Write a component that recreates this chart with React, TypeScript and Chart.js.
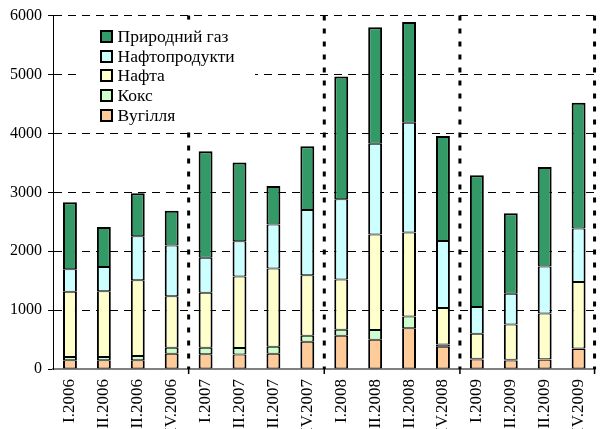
import React, { useEffect, useRef } from "react";
import { Chart, registerables } from "chart.js";

Chart.register(...registerables);

const categories = [
  "I.2006", "II.2006", "III.2006", "IV.2006",
  "I.2007", "II.2007", "III.2007", "IV.2007",
  "I.2008", "II.2008", "III.2008", "IV.2008",
  "I.2009", "II.2009", "III.2009", "IV.2009",
];

// Вугілля
const coal = [150, 150, 150, 260, 250, 245, 260, 463, 565, 497, 690, 378, 160, 145, 155, 340];
// Кокс
const coke = [55, 55, 70, 100, 110, 110, 118, 100, 100, 164, 200, 40, 15, 10, 10, 10];
// Нафта
const crude = [1105, 1115, 1285, 875, 935, 1215, 1328, 1030, 855, 1621, 1427, 616, 424, 602, 779, 1125];
// Нафтопродукти
const products = [385, 410, 750, 860, 595, 600, 746, 1107, 1362, 1543, 1864, 1141, 452, 520, 796, 910];
// Природний газ
const gas = [1135, 680, 730, 590, 1805, 1335, 655, 1080, 2084, 1977, 1712, 1780, 2237, 1367, 1689, 2135];

const seriesNames = ["Вугілля", "Кокс", "Нафта", "Нафтопродукти", "Природний газ"];
const seriesColors = ["#FFCC99", "#CCFFCC", "#FFFFCC", "#CCFFFF", "#339966"];
const seriesData = [coal, coke, crude, products, gas];

const yTicks = [0, 1000, 2000, 3000, 4000, 5000, 6000];
// Category indices after which a year separator is drawn
const yearBreaks = [3, 7, 11];

const FONT = "'Liberation Serif', 'Times New Roman', serif";

const overlayPlugin = {
  id: "overlay",
  beforeDatasetsDraw(chart: any) {
    const { ctx, chartArea, scales } = chart;
    const x = scales.x;
    const positions = yearBreaks.map(
      (i) => (x.getPixelForValue(i) + x.getPixelForValue(i + 1)) / 2
    );
    positions.push(chartArea.right - 1);
    ctx.save();
    positions.forEach((px: number) => {
      ctx.beginPath();
      ctx.setLineDash([5, 8]);
      ctx.lineWidth = 3;
      ctx.strokeStyle = "#000";
      ctx.moveTo(px, chartArea.top);
      ctx.lineTo(px, chartArea.bottom);
      ctx.stroke();
      ctx.setLineDash([]);
      ctx.lineWidth = 1.5;
      ctx.beginPath();
      ctx.moveTo(px, chartArea.bottom);
      ctx.lineTo(px, chartArea.bottom + 5);
      ctx.stroke();
    });
    ctx.restore();
  },
  afterDraw(chart: any) {
    const { ctx, chartArea } = chart;
    const left = chartArea.left + 24;
    const top = chartArea.top + 4;
    ctx.save();
    ctx.fillStyle = "#fff";
    ctx.fillRect(left, top, 178, 112);
    const order = [4, 3, 2, 1, 0];
    ctx.font = `17.5px ${FONT}`;
    ctx.textBaseline = "middle";
    order.forEach((si, row) => {
      const cy = chartArea.top + 20.5 + row * 19.9;
      const bx = chartArea.left + 47;
      const by = Math.round(cy - 6.5);
      ctx.fillStyle = "#000";
      ctx.fillRect(bx, by, 13, 13);
      ctx.fillStyle = seriesColors[si];
      ctx.fillRect(bx + 2, by + 2, 9, 9);
      ctx.fillStyle = "#000";
      ctx.fillText(seriesNames[si], bx + 17.5, cy + 1);
    });
    ctx.restore();
  },
};

export default function App() {
  const ref = useRef<HTMLCanvasElement | null>(null);

  useEffect(() => {
    if (!ref.current) return;
    Chart.defaults.font.family = FONT;
    Chart.defaults.font.size = 16;
    Chart.defaults.color = "#000";

    const chart = new Chart(ref.current, {
      type: "bar",
      data: {
        labels: categories,
        datasets: seriesData.map((d, i) => ({
          label: seriesNames[i],
          data: d,
          backgroundColor: seriesColors[i],
          borderColor: "#000",
          borderWidth: { top: i === 4 ? 2 : 1, bottom: 1, left: 2, right: 2 },
          borderSkipped: false,
          barPercentage: 0.41,
          categoryPercentage: 1,
        })),
      },
      options: {
        responsive: false,
        animation: false,
        layout: { padding: { top: 15, right: 0, left: 0, bottom: 0 } },
        plugins: {
          legend: { display: false },
          tooltip: { enabled: false },
        },
        scales: {
          x: {
            stacked: true,
            grid: { display: false, drawTicks: false },
            border: { display: true, color: "#808080", width: 2 },
            ticks: {
              minRotation: 90,
              maxRotation: 90,
              padding: 10,
              autoSkip: false,
              font: { size: 17, family: FONT },
            },
            afterFit: (scale: any) => {
              scale.height = 60;
            },
          },
          y: {
            stacked: true,
            min: 0,
            max: 6000,
            afterBuildTicks: (scale: any) => {
              scale.ticks = yTicks.map((v) => ({ value: v }));
            },
            grid: {
              color: (c: any) => (c.tick && c.tick.value === 0 ? "rgba(0,0,0,0)" : "#000"),
              lineWidth: 1,
              drawTicks: true,
              tickLength: 5,
              tickColor: "#000",
            },
            border: { display: true, color: "#000", width: 1, dash: [8, 6] },
            ticks: {
              padding: 6,
              font: { size: 16, family: FONT },
              callback: (v: any) => String(v),
            },
            afterFit: (scale: any) => {
              scale.width = 53;
            },
          },
        },
      },
      plugins: [overlayPlugin],
    });
    return () => chart.destroy();
  }, []);

  return (
    <div
      style={{
        position: "fixed",
        left: 0,
        top: 0,
        width: 609,
        height: 429,
        overflow: "hidden",
        background: "#fff",
      }}
    >
      <canvas ref={ref} width={609} height={429} style={{ width: 609, height: 429, display: "block" }} />
    </div>
  );
}
